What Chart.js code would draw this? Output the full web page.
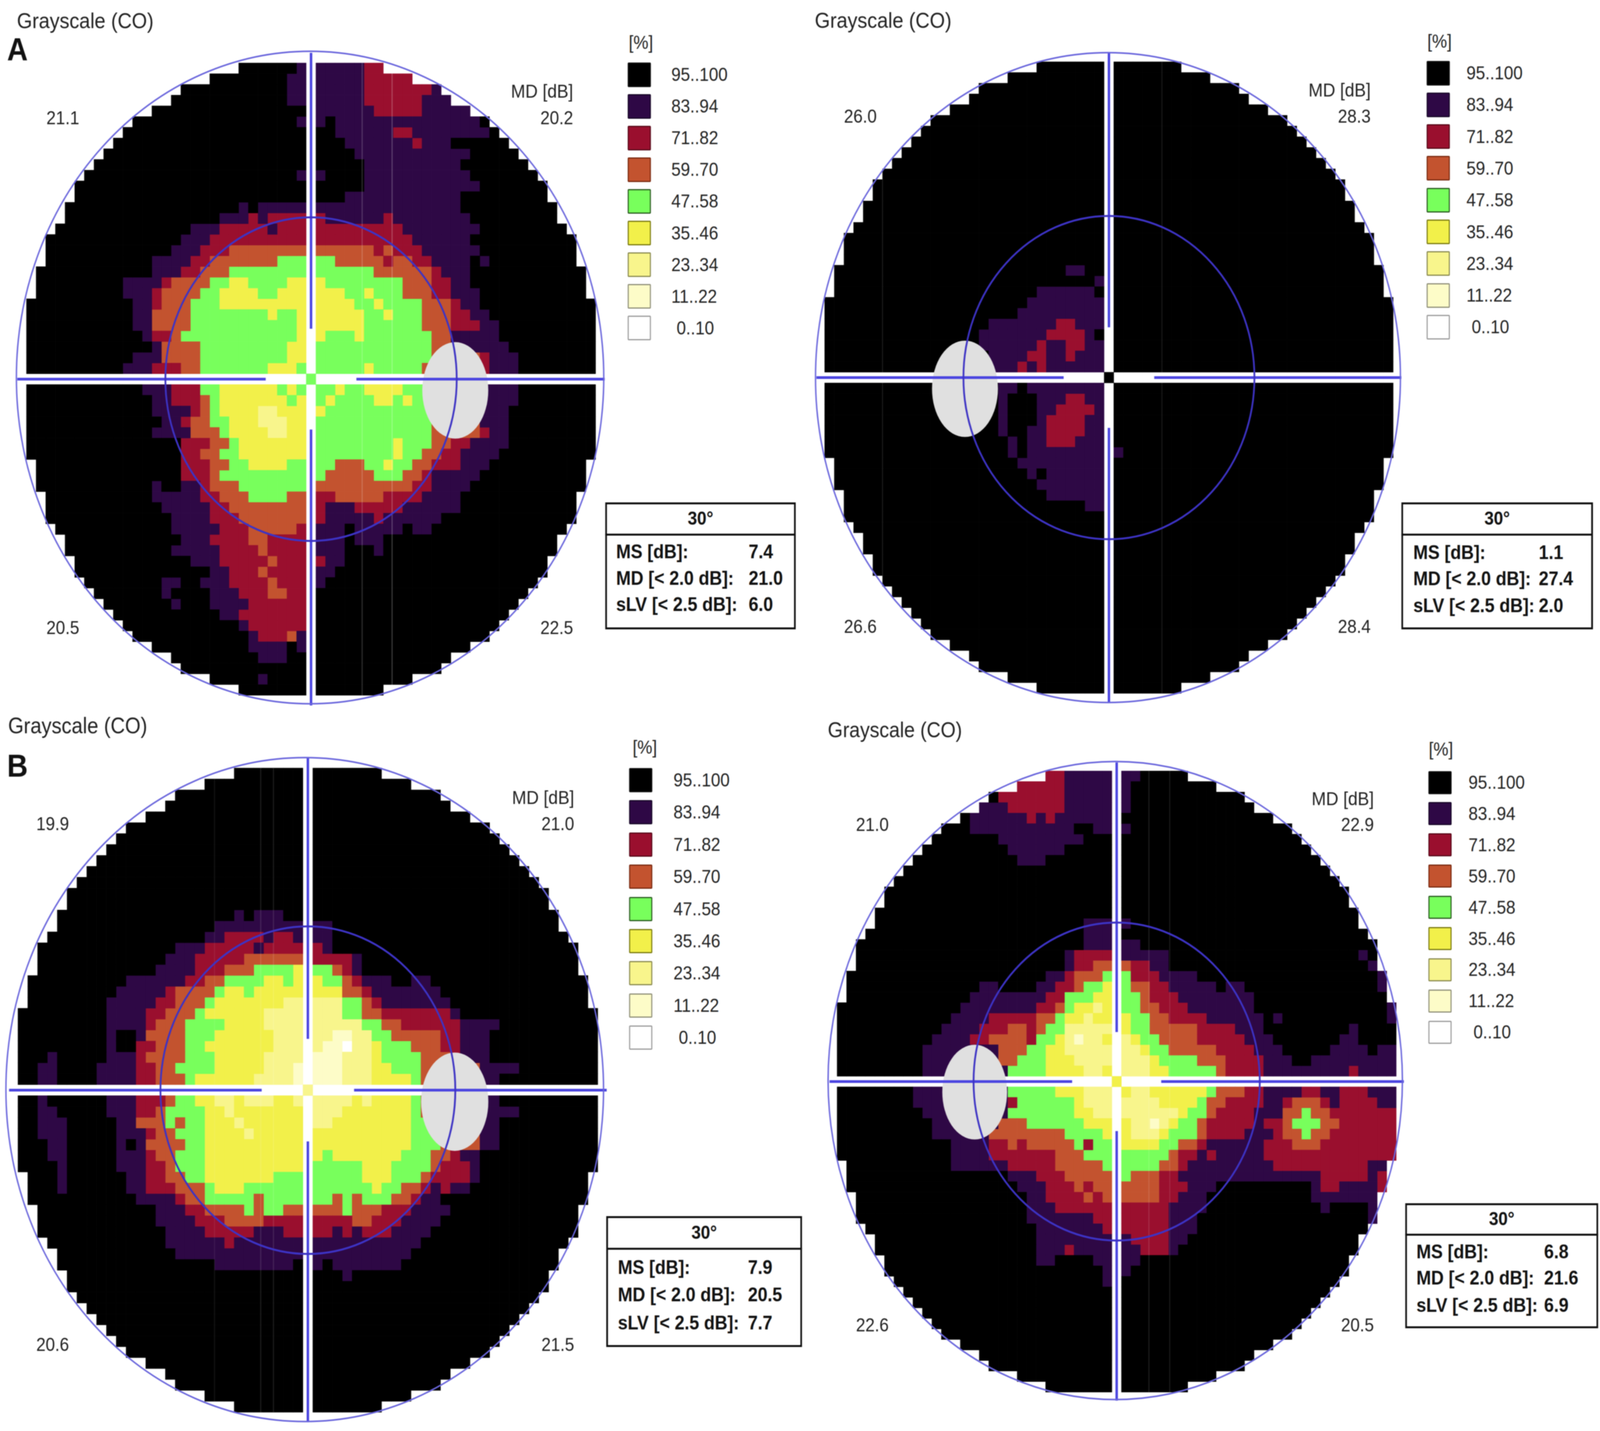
<!DOCTYPE html>
<html><head><meta charset="utf-8">
<script src="https://cdn.jsdelivr.net/npm/chart.js@4"></script>
<style>
html,body{margin:0;padding:0;background:#fff;overflow:hidden}
#page{position:absolute;left:0;top:0;width:4550px;height:3663px;overflow:hidden;background:#fff;font-family:"Liberation Sans",Arial,sans-serif;color:#222;transform-origin:0 0;filter:blur(1px)}
canvas{position:absolute}
.t{position:absolute;white-space:nowrap;line-height:1;transform:translateY(-50%)}
.b{position:absolute;box-sizing:border-box}
</style></head><body><div id="page"></div>
<script>
// legend classes, lowest deviation listed last
const classKeys = ["k","p","r","o","g","y","l","c","w"];
const classLabels = ["95..100","83..94","71..82","59..70","47..58","35..46","23..34","11..22","0..10"];
const classColors = ["#000000","#2e0845","#9a0f2e","#c3532f","#78ff5c","#f2f04a","#f8f58c","#fdfcc8","#ffffff"];
const swatchBorders = ["#111","#1a0a2a","#5a0a1a","#7a2a10","#2a5a20","#7a7a10","#8a8a50","#8f8f78","#999"];
// half width (in cells) of the pixelated field, for row distance 0..29
const rowHalfWidths = [29,29,29,29,29,29,29,29,28,28,28,27,27,27,26,25,25,24,24,23,22,21,20,19,18,16,14,13,10,7];

// each row: [row, "startColumn+class ..."]; unlisted rows and leading cells are class k
const rowsUpperLeft = [
[-29,"-1p 6r"],[-28,"-2p 6r"],[-27,"-2p 6r 13p"],[-26,"-2p 6r 12p"],[-25,"1p 7r 12p"],
[-24,"-1p 2k 3p 18k"],[-23,"3p 9r 11p 19k"],[-22,"4p 11r 12p 15k"],[-21,"5p 17k"],[-20,"6p 16k"],
[-19,"-1p 2k 6p 17k"],[-18,"6p 18k"],[-17,"4p 16k"],[-16,"-7p -6k -5p 16k"],
[-15,"-9p -6r -5p -4r 2p 8r 9p 17k"],[-14,"-12p -9r -4p -3r 10p 18k"],[-13,"-13p -10r 11p 17k"],
[-12,"-14p -11r -8o 7r 8o 9r 12p 18k"],[-11,"-16p -12r -10o -3g 3o 8r 9o 11r 13p 17k 18p 19k"],
[-10,"-16p -13r -11o -8g 7o 13r 14p 17k"],[-9,"-19p -15r -14o -10g -8y -6g -2y 2g 10o 13r 15p 17k"],
[-8,"-19p -16r -15o -11g -9y -5g -3y 4g 6y 7g 10o 13r 15p 18k"],
[-7,"-18p -16r -15o -12g -9y 5g 7y 8g 12o 15r 16p 18k"],
[-6,"-18p -16o -12g -4y -3g -1y 6g 8y 9g 12o 15r 17p 19k"],
[-5,"-18p -16o -12g -1y 6g 12o 15r 18p 20k"],
[-4,"-17p -16r -14o -13g -1y 2g 5y 6g 13o 15p 20k"],
[-3,"-16p -15o -11g -2y 1g 13o 15p 21k"],
[-2,"-18p -15o -11g -2y 1g 13o 18r 19p 22k"],
[-1,"-19p -16r -13o -11g -4y -1g 6y 7g 12o 18r 19p 22k"],
[1,"-17p -14r -11g -9y -3g -2y -1g 3y 4g 6y 10g 13o 18p 22k"],
[2,"-16p -14r -11o -10g -9y -2g -1y 1g 2y 3g 7y 9g 10y 11g 13o 18p 22k"],
[3,"-16p -12r -11o -10g -9y -5l -3y 1y 2g 13o 18p 21k"],
[4,"-15p -13r -12o -10g -8y -5l -2y 1g 13o 18p 21k"],
[5,"-16p -12o -9g -8y -4l -2y 1g 13o 18r 19p 21k"],
[6,"-13r -10o -8g -7y 1g 9y 10g 13o 15r 17p 21k"],
[7,"-13r -11o -9g -7y 1g 9y 10g 12o 14r 16p 20k"],
[8,"-13r -10o -8g -6y -2g 3o 6g 8y 9g 11o 13r 16p 19k"],
[9,"-13r -10o -9g 2o 7g 10o 12r 13p 18k"],
[10,"-16p -15k -13p -11r -10o -7g 1o 11r 13p 17k"],
[11,"-16p -11r -9o -6g -2o 1r 3o 8r 12p 16k"],
[12,"-15p -10r -8o 1r 2p 5r 10p 16k"],
[13,"-14p -10r -7o 1r 2p 7r 8p 14k"],
[14,"-14p -9r -6o -1r 1p 4k 5p 10k 11p 13k"],
[15,"-13p -10r -6o -4r 1p 4k 5p 8k"],
[16,"-14p -9r -5o -4r 1p 4k 7p 8k"],
[17,"-12p -9r -4o -3r 1r 2p 4k"],
[18,"-10p -8r -5o -4r 1p 3k"],
[19,"-15p -13k -11p -8r -4o -3r 1p 2k"],
[20,"-15p -14k -10p -7r -4o -2r 1k"],
[21,"-14p -13k -10p -6r 1k"],
[22,"-9p -7r 1k"],[23,"-7p -6r 1k"],[24,"-6p -5r -2o -1p 1k"],[25,"-6p -2k -1p 1k"],[26,"-5p -2k"],[28,"-5p -4k"]
];
const rowsUpperRight = [
[-10,"-4p -2k"],[-9,"-1p 0k"],[-8,"-7p -1k"],[-7,"-8p 0k"],[-6,"-9p 0k"],[-5,"-12p -5r -3p 0k"],
[-4,"-13p -6r -2p -1k"],[-3,"-13p -7r -6p -4r -2p 0k"],[-2,"-12p -8r -6p -4r -3p 0k"],[-1,"-12p -9r -8p -7r -6p 0k"],
[1,"-11p -9k -8p 0k"],[2,"-11p -10k -7p -4r -2p 0k"],[3,"-11p -10k -7p -5r -1p 0k"],[4,"-11p -10k -7p -6r -2p 0k"],
[5,"-11p -10k -8p -6r -2p 0k"],[6,"-10p -9k -8p -6r -3p 0k"],[7,"-10p -9k -8p 0k 1p 2k"],[8,"-9p 0k"],
[9,"-8p -7k -6p 0k"],[10,"-7p 0k"],[11,"-6p 0k"],[12,"-2p 0k"]
];
const rowsLowerLeft = [
[-16,"-7p -6k -5p -2k"],[-15,"-9p 3k"],[-14,"-10p -8r -4p -3r -1p 3k"],[-13,"-13p -10r -5p -4r 2p 3k"],
[-12,"-14p -11r -6o 1r 5p 6k"],[-11,"-15p -11r -8o -5g -1y 1g 3o 4r 5p 6k"],
[-10,"-18p -12r -10o -8g -4y -2g -1y 2g 4o 5r 6p 9k 11p 13k"],
[-9,"-19p -14r -13o -9g -8y -6g -5y 4o 6r 7p 14k"],
[-8,"-20p -15r -13o -10g -9y -2l 4g 6o 7r 8p 15k"],
[-7,"-20p -16r -14o -11g -10y -4l 4g 6o 8r 15p 16k"],
[-6,"-20p -16r -15o -12g -8y -4l 6g 8o 10r 16p 20k"],
[-5,"-20p -19k -17p -16o -12g -9y -3l 3c 5l 7g 9o 14r 16p 19k"],
[-4,"-20p -19k -17r -15o -12g -10y -3l 2c 4w 5l 7y 8g 11o 14r 16p 19k"],
[-3,"-26p -25k -20p -17r -16o -12g -9y -4l 1c 4l 7y 8g 12o 15r 16p 19k"],
[-2,"-27p -25k -21p -17r -15o -13g -9y -4l -1c 4l 7y 9g 12o 18p 22k"],
[-1,"-27p -25k -21p -17r -15o -12g -11y -5l -1c 4l 7y 11g 12o 18p 20k"],
[1,"-27p -26k -20p -17r -14o -13g -11y -9l -7y -6l -3y -1l 5y 6l 7y 11g 12o 18p 20k"],
[2,"-27p -25k -20p -17r -15o -14g -10y -8l -7y 1l 4y 11g 12o 18p 22k"],
[3,"-27p -24k -19p -17o -14g -13o -12g -10y -7l -6y 1l 3y 11g 13o 18p 20k"],
[4,"-27p -24k -19p -16r -15o -13g -10y -6l -5y 11g 14o 18p 20k"],
[5,"-26p -24k -19p -18k -17p -16o -12g -10y 11g 14o 18p 20k"],
[6,"-26p -24k -19p -16r -15o -13g -10y 2g 3y 10g 13o 15r 16p 18k"],
[7,"-25p -24k -19p -16r -14o -13g -10y 1g 6y 9g 13o 14r 17p 18k"],
[8,"-25p -24k -18p -16r -14o -12g -10y -3g 6y 9g 12o 13r 17p 18k"],
[9,"-25p -24k -18p -16r -13o -10g -9y -6g 7y 8g 10o 12r 13p 14r 15p 17k"],
[10,"-17p -13r -12o -10g -5o -4g 3o 4g 5o 6g 9o 11r 12p 14k"],
[11,"-15p -12r -10o -6g -5o -4g -2o 4g 5o 8r 11p 15k"],
[12,"-15p -11r -8o -4r 5o 7r 10p 14k"],
[13,"-14p -10r -5p -2r 3p 4r 5p 6r 9p 13k"],
[14,"-14p -8r -7p 12k"],[15,"-13p 11k"],[16,"-9p -1k 1p 2k 3p 10k"],[17,"4p 5k"]
];
const rowsLowerRight = [
[-29,"-7r -5p 3k"],[-28,"-10r -5p 2k"],[-27,"-12r -5p 2k"],[-26,"-14p -11r -5p 2k"],[-25,"-15p -9r -8p -7r -6p 1k"],
[-24,"-15p -4k -2p 2k"],[-23,"-12p -3k"],[-22,"-11p -5k"],[-21,"-10p -7k"],
[-15,"-3p 2k"],[-14,"-3p 1k"],[-13,"-3p 3k"],[-12,"-5p -4r 1p 6k 26p 27k"],[-11,"-5p -4r -2o 2r 4p 6k 27p 28k"],
[-10,"-7p -5r -4o -1g 2r 5p 9k 28p"],[-9,"-14p -12k -8p -6r -4o -3g -1y 1g 2o 4r 6p 11k 12p 14k 28p"],
[-8,"-15p -7r -5g -2y 1g 3o 4r 7p 15k"],[-7,"-16p -8r -6o -5g -4y -2l -1y 1g 3o 5r 8p 15k 29p"],
[-6,"-17p -13r -8o -6g -5y -3l -2y 2g 4o 6r 10p 16k 17p 18k 29p"],
[-5,"-18p -14r -11o -9r -8o -7g -5l 1y 2g 4o 9r 13p 16k 25p 26k"],
[-4,"-19p -15r -13o -9r -8g -6y -5l -4c -3l -1y 1l 2y 3g 5o 9r 14p 17k 24p 26k"],
[-3,"-20p -12o -9g -7y -5l 3y 4g 6o 11r 15p 18k 23p 27k 28p"],
[-2,"-20p -12o -10g -7y -4l 4y 5g 9o 12r 16p 19k 21p"],
[-1,"-20p -11g -7y -3l -1y 1l 4y 6g 11o 12r 16p 25r 26p"],
[1,"-21p -11g -6y -3l 1y 2l 4y 10g 11o 14r 16p 20r 22p 24r 27p"],
[2,"-21p -11r -10g -4y -3l 5y 9g 10o 12r 16p 18r 19o 22r 23p 24r 28p"],
[3,"-20p -11g -4y -2l 7y 8g 10o 11r 15p 18o 20g 21o 23r"],
[4,"-19p -12o -9g -3y 2l 4c 5l 6y 7g 9o 10r 15p 16r 18o 19g 22o 24r"],
[5,"-19p -13o -5g -1y 2l 5y 6g 9o 10r 14p 17r 18o 20g 21o 23r"],
[6,"-17p -13r -11o -10r -9o -4g -3r -2g 1y 5g 7o 9r 10p 16r 19o 22r"],
[7,"-17p -13r -6o -3g 6o 7r 9p 10r 11p 16r"],
[8,"-17p -11r -6o -1g 5o 7r 8p 17r 27p"],
[9,"-11p -8r -5o 1g 2o 5r 7p 22r 27p 28r"],
[10,"-10p -7r -4o -3r -2o 5r 8p 11k 21p 22r 24p 28r"],
[11,"-9p -7r -3o -2r -1o 5r 7p 10k 21p"],
[12,"-9p -6r 6p 10k 22p 23k 27p"],
[13,"-9p -2r 6p 9k 27p"],[14,"-8p -1r 6p 9k"],[15,"-8p 2r 6p 8k"],[16,"-8p -5r -4p 3r 6p 7k"],
[17,"-8p -6k -2p 3k"],[18,"-1p 2k"],[19,"-1p 0k"]
];
const centerClasses = ["g","k","l","y"];
const mdHeader = "MD [dB]";
const mdValues = [["21.1","20.2","20.5","22.5"],["26.0","28.3","26.6","28.4"],["19.9","21.0","20.6","21.5"],["21.0","22.9","22.6","20.5"]];
const statLabels = ["MS [dB]:","MD [< 2.0 dB]:","sLV [< 2.5 dB]:"];
const statValues = [["7.4","21.0","6.0"],["1.1","27.4","2.0"],["7.9","20.5","7.7"],["6.8","21.6","6.9"]];
const statHeader = "30°";
const titleText = "Grayscale (CO)";

const panels = [
 {rows:rowsUpperLeft, cx:884,cy:970,cell:27.43, outer:[-.1,-.15,30.44], inner:15.1, spot:[14.95,1.05], streaks:[[5.3,.2],[8.4,.25]],
  title:[48,53,56], md:[233,302,1607,132,1630], legend:[1785,191,81.1,63,1909,1924,1788,109], tbl:[1721,1286,2263,1368,1611,1752,2129,1412,1480,1547]},
 {rows:rowsUpperRight, cx:3153,cy:966,cell:27.4, outer:[-.1,0,30.35], inner:15.1, spot:[-14.94,1.05], streaks:[[-23.5,.1],[5.5,.1]],
  title:[2317,52,56], md:[230,298,1604,2400,3898], legend:[4057,187,81.3,63,4170,4185,4059,106], tbl:[3985,1286,4530,1368,1611,4019,4376,1414,1481,1550]},
 {rows:rowsLowerLeft, cx:875,cy:2790,cell:27.95, outer:[-.32,-.05,30.4], inner:15.0, spot:[14.94,1.06], streaks:[[-4.8,.12],[-3.5,.12],[-9.5,.08]],
  title:[23,1857,57], md:[2041,2109,3442,103,1633], legend:[1789,1997,82.4,62,1915,1930,1799,1913], tbl:[1724,3113,2281,3196,3448,1757,2127,3244,3314,3386]},
 {rows:rowsLowerRight, cx:3175,cy:2768,cell:26.95, outer:[-.15,-.1,30.3], inner:15.1, spot:[-14.98,1.0], streaks:[[3.4,.12],[5.6,.1]],
  title:[2354,1868,55], md:[2044,2111,3392,2434,3907], legend:[4062,2003,79.9,59,4176,4190,4063,1918], tbl:[3996,3080,4545,3160,3400,4028,4391,3204,3271,3341]}
];
const page = document.getElementById("page");
// the layout is measured on the 4550x3663 reference; fit it to whatever window really opens
page.style.transform = "scale(" + (window.innerWidth/4550) + "," + (window.innerHeight/3663) + ")";
function txt(s,x,y,size,opt){opt=opt||{};const d=document.createElement("div");d.className="t";d.textContent=s;
 d.style.fontSize=size+"px";d.style.top=y+"px";
 if(opt.right!==undefined){d.style.right=(4550-opt.right)+"px"}else if(opt.center){d.style.left=x+"px";d.style.transform="translate(-50%,-50%)"}else{d.style.left=x+"px"}
 if(opt.bold)d.style.fontWeight="bold"; if(opt.color)d.style.color=opt.color; page.appendChild(d);}
function box(x,y,w,h,css){const d=document.createElement("div");d.className="b";d.style.left=x+"px";d.style.top=y+"px";d.style.width=w+"px";d.style.height=h+"px";Object.assign(d.style,css);page.appendChild(d);}

function cellsFor(rows,centerKey){
 const lookup={};rows.forEach(r=>lookup[r[0]]=[...r[1].matchAll(/(-?\d+)([a-z])/g)].map(m=>[+m[1],m[2]]));
 const out={};classKeys.forEach(k=>out[k]=[]);
 for(let r=-29;r<=29;r++){const hw=rowHalfWidths[Math.abs(r)],toks=lookup[r]||[];
  for(let c=-hw;c<=hw;c++){ if(r===0&&c===0){out[centerKey].push({x:0,y:0});continue}
   if(r===0||c===0)continue;
   let k="k";for(const t of toks){if(c>=t[0])k=t[1];else break}
   out[k].push({x:c,y:r});}}
 return out;}

panels.forEach((p,i)=>{
 const half=31, size=Math.round(2*half*p.cell);
 const cv=document.createElement("canvas");cv.width=size;cv.height=size;
 cv.style.left=(p.cx-size/2)+"px";cv.style.top=(p.cy-size/2)+"px";cv.style.width=size+"px";cv.style.height=size+"px";
 page.appendChild(cv);
 const cells=cellsFor(p.rows,centerClasses[i]);
 const ptR=(p.cell/2+.35)*Math.SQRT2;
 const overlay={id:"fieldOverlay",afterDatasetsDraw(ch){
  const c=ch.ctx,X=ch.scales.x,Y=ch.scales.y,u=X.getPixelForValue(1)-X.getPixelForValue(0);
  c.save();
  p.streaks.forEach(s=>{c.strokeStyle="rgba(255,255,255,"+s[1]+")";c.lineWidth=3;c.beginPath();c.moveTo(X.getPixelForValue(s[0]),Y.getPixelForValue(-29.5));c.lineTo(X.getPixelForValue(s[0]),Y.getPixelForValue(29.5));c.stroke();});
  c.fillStyle="#e0e0e0";c.beginPath();c.ellipse(X.getPixelForValue(p.spot[0]),Y.getPixelForValue(p.spot[1]),3.42*u,4.5*u,0,0,Math.PI*2);c.fill();
  c.strokeStyle="#4c46e0";c.lineWidth=7;c.beginPath();
  [[-p.outer[2],-4.7],[4.7,p.outer[2]]].forEach(s=>{c.moveTo(X.getPixelForValue(s[0]),Y.getPixelForValue(0));c.lineTo(X.getPixelForValue(s[1]),Y.getPixelForValue(0));
   c.moveTo(X.getPixelForValue(0),Y.getPixelForValue(s[0]));c.lineTo(X.getPixelForValue(0),Y.getPixelForValue(s[1]));});
  c.stroke();
  c.strokeStyle="#3d33c4";c.lineWidth=5;c.beginPath();c.arc(X.getPixelForValue(0),Y.getPixelForValue(0),p.inner*u,0,Math.PI*2);c.stroke();
  c.strokeStyle="#6a66dc";c.lineWidth=4;c.beginPath();c.arc(X.getPixelForValue(p.outer[0]),Y.getPixelForValue(p.outer[1]),p.outer[2]*u,0,Math.PI*2);c.stroke();
  c.restore();}};
 new Chart(cv,{type:"scatter",
  data:{datasets:classKeys.map((k,j)=>({label:classLabels[j],data:cells[k],backgroundColor:classColors[j],pointStyle:"rect",pointRadius:ptR,pointBorderWidth:0,pointHoverRadius:ptR}))},
  options:{responsive:false,animation:false,devicePixelRatio:1,events:[],layout:{padding:0,autoPadding:false},
   plugins:{legend:{display:false},tooltip:{enabled:false}},
   scales:{x:{type:"linear",display:false,min:-half,max:half},y:{type:"linear",display:false,reverse:true,min:-half,max:half}}},
  plugins:[overlay]});
 txt(titleText,p.title[0],p.title[1],p.title[2]);
 const m=p.md,v=mdValues[i];
 txt(mdHeader,0,m[0],49,{right:m[4]});
 txt(v[0],m[3],m[1],48);txt(v[1],0,m[1],48,{right:m[4]});
 txt(v[2],m[3],m[2],48);txt(v[3],0,m[2],48,{right:m[4]});
 const L=p.legend;
 txt("[%]",L[6],L[7],48);
 classLabels.forEach((lab,j)=>{const y=L[1]+j*L[2];
  box(L[0],y-L[3]/2,66,L[3],{background:classColors[j],border:"3px solid "+swatchBorders[j],borderRadius:"3px"});
  txt(lab,j===8?L[5]:L[4],y,48);});
 const T=p.tbl;
 box(T[0],T[1],T[2]-T[0],T[4]-T[1],{border:"5px solid #111",background:"#fff"});
 box(T[0],T[3]-2,T[2]-T[0],5,{background:"#111"});
 txt(statHeader,(T[0]+T[2])/2,(T[1]+T[3])/2,48,{bold:true,center:true,color:"#111"});
 statLabels.forEach((lab,j)=>{txt(lab,T[5],T[7+j],50,{bold:true,color:"#111"});txt(statValues[i][j],T[6],T[7+j],50,{bold:true,color:"#111"});});
});
txt("A",20,126,82,{bold:true,color:"#111"});
txt("B",20,1960,82,{bold:true,color:"#111"});
</script></body></html>
